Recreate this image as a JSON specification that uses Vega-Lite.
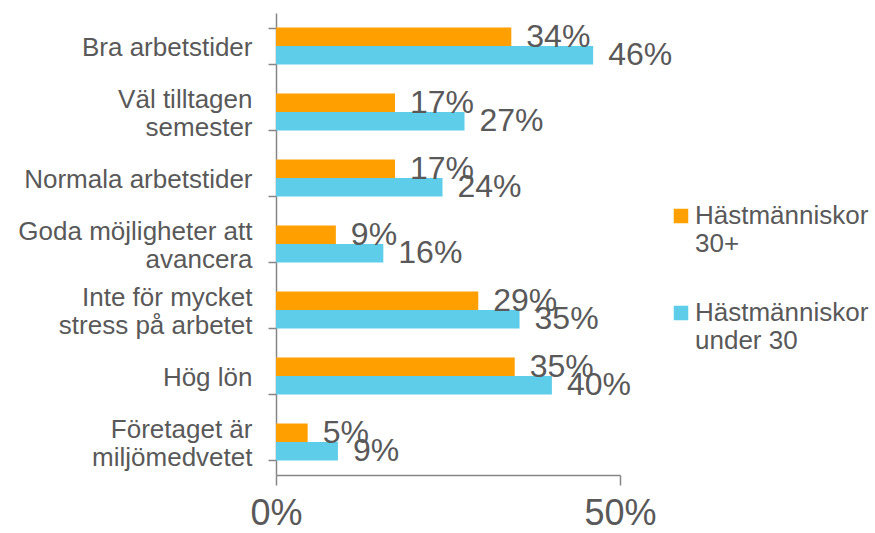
{
  "$schema": "https://vega.github.io/schema/vega-lite/v6.json",
  "width": 344,
  "height": 462,
  "autosize": {"type": "none"},
  "padding": {"left": 276, "top": 13, "right": 255, "bottom": 58},
  "background": "white",
  "config": {
    "font": "Liberation Sans",
    "view": {"stroke": null},
    "axis": {"grid": false, "domainColor": "#868686", "tickColor": "#868686", "labelColor": "#595959", "domainWidth": 1.5, "tickWidth": 1.5}
  },
  "data": {
    "values": [
      {"kategori": "Bra arbetstider", "grupp": "Hästmänniskor 30+", "andel": 0.342},
      {"kategori": "Bra arbetstider", "grupp": "Hästmänniskor under 30", "andel": 0.461},
      {"kategori": "Väl tilltagen semester", "grupp": "Hästmänniskor 30+", "andel": 0.173},
      {"kategori": "Väl tilltagen semester", "grupp": "Hästmänniskor under 30", "andel": 0.274},
      {"kategori": "Normala arbetstider", "grupp": "Hästmänniskor 30+", "andel": 0.173},
      {"kategori": "Normala arbetstider", "grupp": "Hästmänniskor under 30", "andel": 0.242},
      {"kategori": "Goda möjligheter att avancera", "grupp": "Hästmänniskor 30+", "andel": 0.087},
      {"kategori": "Goda möjligheter att avancera", "grupp": "Hästmänniskor under 30", "andel": 0.156},
      {"kategori": "Inte för mycket stress på arbetet", "grupp": "Hästmänniskor 30+", "andel": 0.294},
      {"kategori": "Inte för mycket stress på arbetet", "grupp": "Hästmänniskor under 30", "andel": 0.354},
      {"kategori": "Hög lön", "grupp": "Hästmänniskor 30+", "andel": 0.347},
      {"kategori": "Hög lön", "grupp": "Hästmänniskor under 30", "andel": 0.401},
      {"kategori": "Företaget är miljömedvetet", "grupp": "Hästmänniskor 30+", "andel": 0.046},
      {"kategori": "Företaget är miljömedvetet", "grupp": "Hästmänniskor under 30", "andel": 0.09}
    ]
  },
  "encoding": {
    "y": {
      "field": "kategori",
      "type": "nominal",
      "sort": null,
      "scale": {"paddingInner": 0.44, "paddingOuter": 0.22},
      "axis": {
        "title": null,
        "tickBand": "extent",
        "tickSize": 8,
        "labelPadding": 16,
        "labelFontSize": 26,
        "labelLineHeight": 14,
        "labelBaseline": "bottom",
        "labelLimit": 300,
        "labelExpr": "datum.label == 'Väl tilltagen semester' ? ['Väl tilltagen', '\u2800', 'semester'] : datum.label == 'Goda möjligheter att avancera' ? ['Goda möjligheter att', '\u2800', 'avancera'] : datum.label == 'Inte för mycket stress på arbetet' ? ['Inte för mycket', '\u2800', 'stress på arbetet'] : datum.label == 'Företaget är miljömedvetet' ? ['Företaget är', '\u2800', 'miljömedvetet'] : ['\u2800', datum.label]"
      }
    },
    "yOffset": {"field": "grupp", "type": "nominal", "sort": null, "scale": {"paddingInner": 0, "paddingOuter": 0}},
    "x": {
      "field": "andel",
      "type": "quantitative",
      "scale": {"domain": [0, 0.5], "nice": false},
      "axis": {
        "title": null,
        "values": [0, 0.5],
        "format": ".0%",
        "labelFontSize": 36,
        "tickSize": 10,
        "labelPadding": 11,
        "labelFlush": false
      }
    }
  },
  "layer": [
    {
      "mark": {"type": "bar"},
      "encoding": {
        "color": {
          "field": "grupp",
          "type": "nominal",
          "sort": null,
          "scale": {"range": ["#FFA000", "#5DCDEA"]},
          "legend": {
            "title": null,
            "orient": "none",
            "legendX": 392,
            "legendY": 190,
            "symbolType": "square",
            "symbolSize": 210,
            "symbolStrokeWidth": 0,
            "labelFontSize": 26,
            "labelColor": "#595959",
            "labelLineHeight": 33,
            "labelOffset": 1,
            "labelBaseline": "middle",
            "rowPadding": 43,
            "labelLimit": 300,
            "labelExpr": "datum.label == 'Hästmänniskor 30+' ? ['Hästmänniskor', '30+'] : ['Hästmänniskor', 'under 30']"
          }
        }
      }
    },
    {
      "mark": {"type": "text", "align": "left", "baseline": "middle", "dx": 15, "fontSize": 32, "color": "#595959"},
      "encoding": {
        "text": {"field": "andel", "type": "quantitative", "format": ".0%"}
      }
    }
  ]
}
